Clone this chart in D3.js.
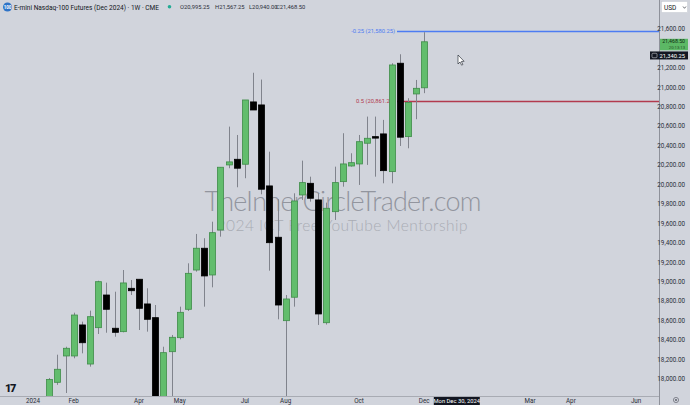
<!DOCTYPE html>
<html>
<head>
<meta charset="utf-8">
<script src="https://cdn.jsdelivr.net/npm/d3@7"></script>
<style>
  html, body { margin: 0; padding: 0; background: #d1d4dc; }
  svg { display: block; font-family: Roboto, "Liberation Sans", sans-serif; }
</style>
</head>
<body>
<div id="chart"></div>
<script>
// weekly bars, NQ Dec 2024, first bar = week of Jan 1 2024
var opens  = [17400, 17040, 17560, 17966, 18237, 18237, 18556, 18154, 18528, 18864,
              18522, 18487, 18933, 19026, 18772, 18631, 17720, 18281, 18425, 18717,
              19121, 19345, 19070, 19533, 20202, 20260, 20209, 20850, 20819, 19986,
              19458, 18600, 18841, 19893, 20013, 19842, 18579, 19721, 20030, 20191,
              20212, 20425, 20493, 20521, 20133, 21248, 20493, 20932, 20995.25];
var highs  = [17470, 17600, 18010, 18250, 18332, 18682, 18590, 18703, 19011, 18991,
              18898, 19121, 19018, 19026, 18933, 18761, 18332, 18453, 18744, 19190,
              19492, 19448, 19618, 20178, 20596, 20510, 20870, 21150, 21080, 20338,
              19849, 18864, 19910, 20246, 20081, 19910, 19814, 20184, 20528, 20322,
              20510, 20699, 20699, 20665, 21248, 21340.25, 20888, 21076, 21567.25];
var lows   = [16920, 16980, 17480, 17940, 17856, 18213, 18264, 18127, 18463, 18476,
              18435, 18480, 18864, 18504, 18487, 17600, 17650, 17800, 18408, 18700,
              19104, 18744, 18943, 19464, 20168, 19972, 20065, 20767, 19900, 19114,
              18614, 17400, 18744, 19842, 19824, 18556, 18560, 19636, 19978, 20184,
              19996, 20202, 20081, 20013, 20013, 20397, 20373, 20672, 20940];
var closes = [17050, 17550, 17995, 18100, 18316, 18658, 18373, 18641, 19001, 18717,
              18480, 18988, 18908, 18727, 18614, 17700, 18271, 18429, 18686, 19087,
              19345, 19060, 19505, 20178, 20233, 20168, 20870, 20767, 19952, 19402,
              18761, 18823, 19831, 20020, 19859, 18669, 19756, 20020, 20212, 20225,
              20441, 20476, 20483, 20143, 21230, 20487, 20843, 20990, 21468.50];

var timeTicks = ["2024-01-01", "2024-02-05", "2024-04-01", "2024-05-06", "2024-07-01", "2024-08-05",
                 "2024-10-07", "2024-12-02", "2025-03-03", "2025-04-07", "2025-06-02"];
var timeTickLabels = ["2024", "Feb", "Apr", "May", "Jul", "Aug", "Oct", "Dec", "Mar", "Apr", "Jun"];

var priceTicks = d3.range(18000, 21601, 200);

var fibLevels = [
  {label: "-0.25 (21,580.25)", value: 21580.25, color: "#4d7cf2"},
  {label: "0.5 (20,861.25)",   value: 20861.25, color: "#b23a4e"}
];

var lastPrice = 21468.50, crossPrice = 21340.25, crossDate = "2024-12-30";

var width = 690,
    height = 405,
    plotRight = 659,
    plotBottom = 396;

var weeks = d3.utcMonday.range(new Date(Date.UTC(2024, 0, 1)), new Date(Date.UTC(2024, 11, 3)));
var bars = weeks.map(function(d, i) {
  return {date: d, o: opens[i], h: highs[i], l: lows[i], c: closes[i]};
});

var x = d3.scaleUtc()
  .domain([new Date(Date.UTC(2024, 0, 1)), new Date(Date.UTC(2025, 0, 6))])
  .range([33, 33 + 53 * 8.15]);

var y = d3.scaleLinear()
  .domain([18000, 21600])
  .range([379, 29]);

var fmt = d3.format(",.2f");

var svg = d3.select("#chart").append("svg")
  .attr("width", width)
  .attr("height", height);

svg.append("rect").attr("width", width).attr("height", height).attr("fill", "#d1d4dc");

svg.append("defs").append("clipPath").attr("id", "plot")
  .append("rect").attr("x", 0).attr("y", 0).attr("width", plotRight).attr("height", plotBottom);

// watermark
var wm = svg.append("g").attr("font-family", "Lato, 'Open Sans', sans-serif").attr("font-weight", 300);
wm.append("text")
  .attr("x", 343).attr("y", 211)
  .attr("text-anchor", "middle")
  .attr("font-size", 27)
  .attr("textLength", 277)
  .attr("fill", "#92959e")
  .text("TheInnerCircleTrader.com");
wm.append("text")
  .attr("x", 342).attr("y", 231)
  .attr("text-anchor", "middle")
  .attr("font-size", 15.5)
  .attr("textLength", 251)
  .attr("fill", "#a9acb4")
  .text("2024 ICT Free YouTube Mentorship");

var plot = svg.append("g").attr("clip-path", "url(#plot)");

// fib levels
fibLevels.forEach(function(f) {
  plot.append("line")
    .attr("x1", 397).attr("x2", plotRight)
    .attr("y1", Math.round(y(f.value)) + 0.5).attr("y2", Math.round(y(f.value)) + 0.5)
    .attr("stroke", f.color).attr("stroke-width", 1.3);
  plot.append("text")
    .attr("x", 395).attr("y", y(f.value) + 2)
    .attr("text-anchor", "end")
    .attr("font-size", 5.8)
    .attr("fill", f.color)
    .text(f.label);
});

// candles
var candle = plot.selectAll("g.candle")
  .data(bars)
  .enter().append("g")
  .attr("class", "candle");

candle.append("line")
  .attr("x1", function(d) { return Math.round(x(d.date)) + 0.5; })
  .attr("x2", function(d) { return Math.round(x(d.date)) + 0.5; })
  .attr("y1", function(d) { return y(d.h); })
  .attr("y2", function(d) { return y(d.l); })
  .attr("stroke", "#80838c")
  .attr("stroke-width", 1);

candle.append("rect")
  .attr("x", function(d) { return Math.round(x(d.date)) - 2.5; })
  .attr("width", 6)
  .attr("y", function(d) { return y(Math.max(d.o, d.c)); })
  .attr("height", function(d) { return Math.max(1.5, Math.abs(y(d.o) - y(d.c))); })
  .attr("fill", function(d) { return d.c >= d.o ? "#62bd6d" : "#000000"; })
  .attr("stroke", function(d) { return d.c >= d.o ? "#3f8c49" : "#000000"; })
  .attr("stroke-width", 0.8);

// axes frame
svg.append("line").attr("x1", plotRight + 0.5).attr("x2", plotRight + 0.5)
  .attr("y1", 0).attr("y2", height).attr("stroke", "#8e919a");
svg.append("line").attr("x1", 0).attr("x2", plotRight)
  .attr("y1", plotBottom + 0.5).attr("y2", plotBottom + 0.5).attr("stroke", "#a8abb3");

// price axis (labels hidden behind the price tags are skipped, like TV does)
var yAxis = svg.append("g").attr("font-size", 6.3).attr("fill", "#2a2e39");
yAxis.selectAll("text")
  .data(priceTicks.filter(function(d) {
    return Math.abs(y(d) - y(lastPrice) - 2.7) > 8 && Math.abs(y(d) - y(crossPrice) - 1.2) > 7;
  }))
  .enter().append("text")
  .attr("x", 685)
  .attr("y", function(d) { return y(d) + 2.2; })
  .attr("text-anchor", "end")
  .text(function(d) { return fmt(d); });

// last price label
var lp = svg.append("g");
lp.append("rect").attr("x", 660).attr("y", y(lastPrice) - 3) .attr("width", 28).attr("height", 11.5)
  .attr("fill", "#5cb865");
lp.append("text").attr("x", 685).attr("y", y(lastPrice) + 1.3).attr("text-anchor", "end")
  .attr("font-size", 5.2).attr("fill", "#0f2a12").text(fmt(lastPrice));
lp.append("text").attr("x", 685).attr("y", y(lastPrice) + 6.9).attr("text-anchor", "end")
  .attr("font-size", 4.2).attr("fill", "#1f4d25").text("20:13:13");

// crosshair price label
var cp = svg.append("g");
cp.append("rect").attr("x", 650).attr("y", y(crossPrice) - 2.8).attr("width", 38).attr("height", 8)
  .attr("fill", "#131722");
cp.append("rect").attr("x", 652).attr("y", y(crossPrice) - 1).attr("width", 5).attr("height", 4.5)
  .attr("rx", 1).attr("fill", "none").attr("stroke", "#c9ccd4").attr("stroke-width", 0.6);
cp.append("text").attr("x", 685).attr("y", y(crossPrice) + 3.3).attr("text-anchor", "end")
  .attr("font-size", 5.8).attr("fill", "#ffffff").text(fmt(crossPrice));

// USD box
svg.append("rect").attr("x", 661.5).attr("y", 1.5).attr("width", 26).attr("height", 11)
  .attr("fill", "#ffffff").attr("stroke", "#c4c7cf").attr("stroke-width", 0.5);
svg.append("text").attr("x", 664).attr("y", 9.6).attr("font-size", 6.5).attr("fill", "#131722").text("USD");
svg.append("path").attr("d", "M683,6.5 l1.5,1.8 l1.5,-1.8").attr("fill", "none")
  .attr("stroke", "#131722").attr("stroke-width", 0.6);

// time axis
var xAxis = svg.append("g").attr("font-size", 6.3).attr("fill", "#2a2e39");
xAxis.selectAll("text")
  .data(timeTicks)
  .enter().append("text")
  .attr("x", function(d) { return x(new Date(d + "T00:00:00Z")); })
  .attr("y", 403)
  .attr("text-anchor", "middle")
  .text(function(d, i) { return timeTickLabels[i]; });

var cx = x(new Date(crossDate + "T00:00:00Z"));
svg.append("rect").attr("x", cx - 23).attr("y", 397).attr("width", 46).attr("height", 8).attr("fill", "#131722");
svg.append("text").attr("x", cx).attr("y", 403).attr("text-anchor", "middle")
  .attr("font-size", 5.8).attr("fill", "#ffffff").text("Mon Dec 30, 2024");

// settings icon bottom right
svg.append("circle").attr("cx", 676).attr("cy", 400).attr("r", 2.6)
  .attr("fill", "none").attr("stroke", "#50535e").attr("stroke-width", 0.6);
svg.append("circle").attr("cx", 676).attr("cy", 400).attr("r", 0.9).attr("fill", "#50535e");

// TV logo bottom left
svg.append("text").attr("x", 5).attr("y", 392).attr("font-size", 11).attr("font-weight", 900)
  .attr("fill", "#131722").attr("letter-spacing", -1.5).text("17");

// header
var hd = svg.append("g");
hd.append("circle").attr("cx", 7.5).attr("cy", 7).attr("r", 4.5).attr("fill", "#2e73c7");
hd.append("text").attr("x", 7.5).attr("y", 8.7).attr("text-anchor", "middle").attr("font-size", 4.5)
  .attr("font-weight", 700).attr("fill", "#ffffff").text("100");
hd.append("text").attr("x", 14).attr("y", 9.8).attr("font-size", 7.4).attr("fill", "#131722")
  .attr("textLength", 145).attr("lengthAdjust", "spacingAndGlyphs")
  .text("E-mini Nasdaq-100 Futures (Dec 2024) \u00b7 1W \u00b7 CME");
hd.append("circle").attr("cx", 169.5).attr("cy", 6.8).attr("r", 1.8).attr("fill", "#22ab94");
var ohlc = [["O", bars[48].o, 180], ["H", bars[48].h, 215], ["L", bars[48].l, 249], ["C", bars[48].c, 276]];
hd.selectAll("text.ohlc")
  .data(ohlc)
  .enter().append("text")
  .attr("class", "ohlc")
  .attr("x", function(d) { return d[2]; })
  .attr("y", 9.3)
  .attr("font-size", 5.8)
  .attr("fill", "#2a2e39")
  .text(function(d) { return d[0] + fmt(d[1]); });

// mouse cursor
svg.append("path")
  .attr("d", "M458,55 l0,9 l2,-2 l1.6,3.2 l1.3,-0.7 l-1.6,-3 l2.8,-0.2 z")
  .attr("fill", "#ffffff").attr("stroke", "#131722").attr("stroke-width", 0.6);
</script>
</body>
</html>
